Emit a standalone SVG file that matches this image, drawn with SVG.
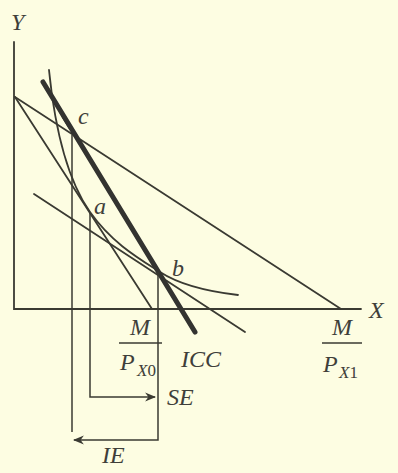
<svg xmlns="http://www.w3.org/2000/svg" width="398" height="473" viewBox="0 0 398 473">
  <style>
    .ln { stroke: #3a3a32; stroke-width: 1.8; fill: none; stroke-linecap: round; }
    .thin { stroke: #3a3a32; stroke-width: 1.5; fill: none; }
    .thick { stroke: #333330; stroke-width: 5; fill: none; stroke-linecap: round; }
    .lbl { font-family: "Liberation Serif", "Times New Roman", serif; font-style: italic; font-size: 24px; fill: #3f3f3a; }
    .sub { font-family: "Liberation Serif", "Times New Roman", serif; font-style: italic; font-size: 17px; fill: #3f3f3a; }
  </style>
  <defs>
    <marker id="arr" viewBox="0 0 10 10" refX="9" refY="5" markerWidth="11" markerHeight="11" markerUnits="userSpaceOnUse" orient="auto">
      <path d="M0,1 L10,5 L0,9 L3,5 Z" fill="#3a3a32"/>
    </marker>
  </defs>
  <rect width="398" height="473" fill="#fdfde2"/>

  <g id="axes">
    <path class="ln" d="M14,42 L14,309 L361,309"/>
    <text class="lbl" x="11" y="30">Y</text>
    <text class="lbl" x="369" y="318">X</text>
  </g>

  <g id="budget-lines">
    <line class="ln" x1="15" y1="97" x2="152" y2="309"/>
    <line class="ln" x1="15" y1="97" x2="341" y2="309"/>
    <line class="ln" x1="34" y1="194" x2="245" y2="332"/>
  </g>

  <g id="indifference-curves">
    <path class="ln" d="M49,70 C54,120 64,175 90,212 C112,243 138,258 160,272 C180,285 212,292 238,295"/>
    <path class="ln" style="stroke-width:3" d="M58,106 Q63,118 70,128"/>
  </g>

  <g id="icc">
    <line class="thick" x1="43" y1="82" x2="195" y2="332"/>
    <text class="lbl" x="181" y="367">ICC</text>
  </g>

  <g id="connectors">
    <line class="thin" x1="72" y1="135" x2="72" y2="432"/>
    <path class="thin" d="M90,213 L90,397 L155,397" marker-end="url(#arr)"/>
    <path class="thin" d="M158,272 L158,440 L74,440" marker-end="url(#arr)"/>
  </g>

  <g id="point-c"><text class="lbl" x="78" y="124">c</text></g>
  <g id="point-a"><text class="lbl" x="94" y="214">a</text></g>
  <g id="point-b"><text class="lbl" x="172" y="276">b</text></g>

  <g id="label-mpx0">
    <text class="lbl" x="140" y="335" text-anchor="middle">M</text>
    <line class="thin" x1="119" y1="343" x2="162" y2="343"/>
    <text class="lbl" x="120" y="370">P</text>
    <text class="sub" x="137" y="376">X<tspan font-style="normal">0</tspan></text>
  </g>

  <g id="label-mpx1">
    <text class="lbl" x="342" y="335" text-anchor="middle">M</text>
    <line class="thin" x1="322" y1="343" x2="362" y2="343"/>
    <text class="lbl" x="323" y="372">P</text>
    <text class="sub" x="339" y="378">X<tspan font-style="normal">1</tspan></text>
  </g>

  <g id="label-se"><text class="lbl" x="167" y="405">SE</text></g>
  <g id="label-ie"><text class="lbl" x="102" y="463">IE</text></g>
</svg>
